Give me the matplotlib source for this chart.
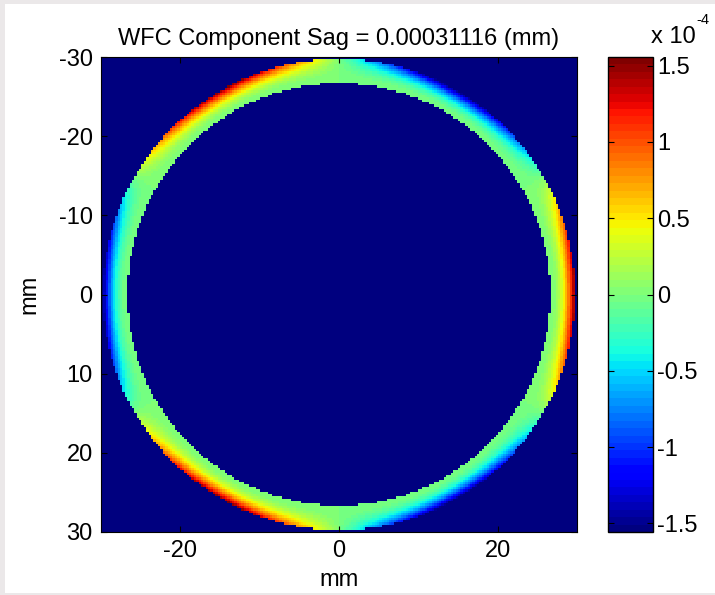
import numpy as np
import matplotlib
matplotlib.use("Agg")
from matplotlib import pyplot as plt
from matplotlib.patches import Rectangle

plt.rcParams["font.family"] = ["Liberation Sans", "DejaVu Sans"]
plt.rcParams["axes.unicode_minus"] = False

# values
title = "WFC Component Sag = 0.00031116 (mm)"
extent_mm = [-30, 30]
r_inner = 26.8          # inner edge of the ring (mm)
r_outer = 29.9          # outer edge of the ring (mm)
peak = 1.5558e-4        # half of the sag (colour limit)
lobes = 3               # trefoil pattern around the ring
grid_n = 200
cbar_ticks = [-1.5, -1, -0.5, 0, 0.5, 1, 1.5]
cbar_labels = ["-1.5", "-1", "-0.5", "0", "0.5", "1", "1.5"]
axis_ticks = [-20, 0, 20]
yaxis_ticks = [-30, -20, -10, 0, 10, 20, 30]

# build the sag map
xs = np.linspace(extent_mm[0], extent_mm[1], grid_n)
X, Y = np.meshgrid(xs, xs)
R = np.hypot(X, Y)
T = np.arctan2(Y, X)
ring = (R >= r_inner) & (R <= r_outer)
frac = np.clip((R - r_inner) / (r_outer - r_inner), 0, 1)
Z = peak * np.cos(lobes * T) * frac ** 2
Z[~ring] = -peak

fs = 17
fig = plt.figure(figsize=(7.15, 5.95), dpi=100)
fig.patch.set_facecolor("#ebe8e9")
fig.patches.append(Rectangle((5 / 715, 2 / 595), 1, 1 - 6 / 595, transform=fig.transFigure,
                             facecolor="white", edgecolor="none", zorder=-1))

cmap = plt.get_cmap("jet", 64)
ax = fig.add_axes([101 / 715, 1 - 532 / 595, 476 / 715, 475 / 595])
im = ax.imshow(Z, cmap=cmap, vmin=-peak, vmax=peak, origin="upper",
               extent=[extent_mm[0], extent_mm[1], extent_mm[1], extent_mm[0]],
               aspect="auto", interpolation="nearest")
ax.set_xlim(extent_mm[0], extent_mm[1])
ax.set_ylim(extent_mm[1], extent_mm[0])
ax.set_xticks(axis_ticks)
ax.set_yticks(yaxis_ticks)
ax.tick_params(direction="in", top=True, right=True, labelsize=fs, length=4, pad=6)
ax.set_xlabel("mm", fontsize=fs, labelpad=5)
ax.set_ylabel("mm", fontsize=fs, labelpad=13)
ax.set_title(title, fontsize=fs, pad=9)

cax = fig.add_axes([608 / 715, 1 - 532 / 595, 45 / 715, 475 / 595])
cb = fig.colorbar(im, cax=cax)
cb.set_ticks([t * 1e-4 for t in cbar_ticks])
cb.set_ticklabels(cbar_labels)
cb.outline.set_linewidth(1.0)
cax.tick_params(direction="in", left=True, right=True, labelsize=fs, length=4, pad=3)
fig.text(651 / 715, 1 - 37 / 595, "x 10", fontsize=fs, va="center", ha="left")
fig.text(696 / 715, 1 - 20 / 595, "-4", fontsize=10.5, va="center", ha="left")

fig.savefig("out.png", dpi=100)
